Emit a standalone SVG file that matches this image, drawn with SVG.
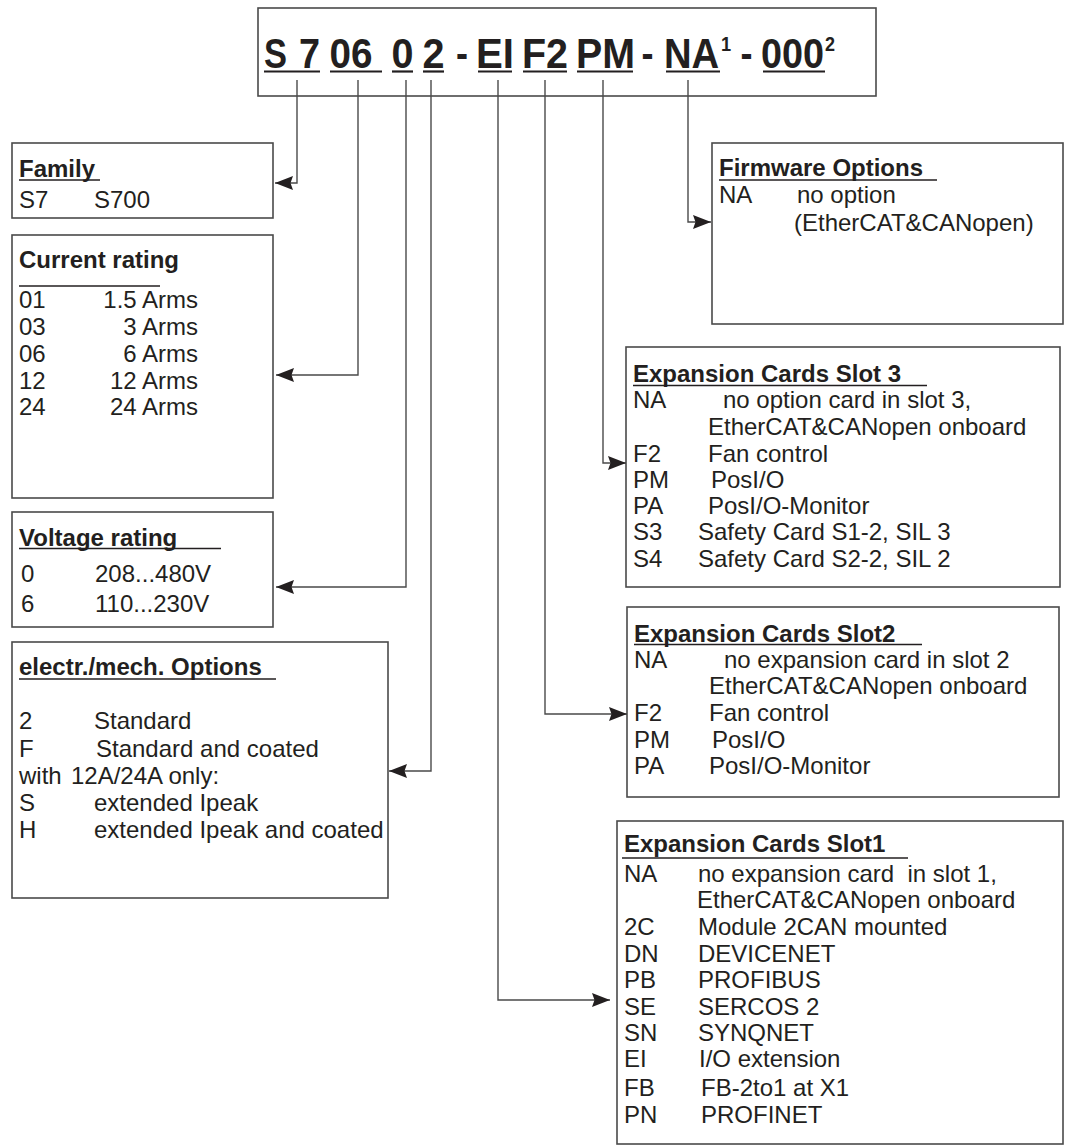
<svg xmlns="http://www.w3.org/2000/svg" width="1073" height="1146" viewBox="0 0 1073 1146">
<style>
text{font-family:"Liberation Sans",Arial,sans-serif;fill:#231f20}
.t{font-size:24px;font-weight:bold}
.r{font-size:24px}
.h{font-size:42px;font-weight:bold}
.sup{font-size:20px;font-weight:bold}
.box{fill:#fff;stroke:#4a4a4a;stroke-width:1.6}
.ul{stroke:#231f20;stroke-width:1.6}
.hul{stroke:#231f20;stroke-width:2.2}
.con{fill:none;stroke:#4a4a4a;stroke-width:1.4}
.e{text-anchor:end}
</style>
<defs>
<marker id="ah" viewBox="0 0 18 14" refX="18" refY="7" markerWidth="18" markerHeight="14" markerUnits="userSpaceOnUse" orient="auto">
<path d="M0,0 L18,7 L0,14 L2.5,7 z" fill="#231f20"/>
</marker>
</defs>
<rect width="1073" height="1146" fill="#fff"/>

<g id="header">
<rect class="box" x="258" y="8" width="618" height="88"/>
<text class="h" x="264" y="68" textLength="23" lengthAdjust="spacingAndGlyphs">S</text>
<text class="h" x="299" y="68" textLength="21" lengthAdjust="spacingAndGlyphs">7</text>
<text class="h" x="329.5" y="68" textLength="43" lengthAdjust="spacingAndGlyphs">06</text>
<text class="h" x="391.5" y="68" textLength="22" lengthAdjust="spacingAndGlyphs">0</text>
<text class="h" x="422.5" y="68" textLength="22" lengthAdjust="spacingAndGlyphs">2</text>
<text class="h" x="456" y="68" textLength="12" lengthAdjust="spacingAndGlyphs">-</text>
<text class="h" x="476" y="68" textLength="38" lengthAdjust="spacingAndGlyphs">EI</text>
<text class="h" x="522" y="68" textLength="46" lengthAdjust="spacingAndGlyphs">F2</text>
<text class="h" x="576" y="68" textLength="59" lengthAdjust="spacingAndGlyphs">PM</text>
<text class="h" x="641.5" y="68" textLength="12" lengthAdjust="spacingAndGlyphs">-</text>
<text class="h" transform="translate(664,68) scale(0.91,1)">NA<tspan class="sup" dx="2" dy="-17">1</tspan></text>
<text class="h" x="740.5" y="68" textLength="12" lengthAdjust="spacingAndGlyphs">-</text>
<text class="h" transform="translate(761,68) scale(0.9,1)">000<tspan class="sup" dx="1" dy="-17">2</tspan></text>
<line class="hul" x1="264" y1="71.5" x2="320" y2="71.5"/>
<line class="hul" x1="330" y1="71.5" x2="382" y2="71.5"/>
<line class="hul" x1="392" y1="71.5" x2="413" y2="71.5"/>
<line class="hul" x1="423" y1="71.5" x2="444" y2="71.5"/>
<line class="hul" x1="478" y1="71.5" x2="512" y2="71.5"/>
<line class="hul" x1="523" y1="71.5" x2="567" y2="71.5"/>
<line class="hul" x1="577" y1="71.5" x2="633" y2="71.5"/>
<line class="hul" x1="666" y1="71.5" x2="720" y2="71.5"/>
<line class="hul" x1="763" y1="71.5" x2="825" y2="71.5"/>
</g>

<g id="family">
<rect class="box" x="12" y="143" width="261" height="75"/>
<text class="t" x="19" y="177">Family</text>
<line class="ul" x1="19" y1="180" x2="100" y2="180"/>
<text class="r" x="19" y="208">S7</text>
<text class="r" x="94" y="208">S700</text>
</g>

<g id="current">
<rect class="box" x="12" y="235" width="261" height="263"/>
<text class="t" x="19" y="268">Current rating</text>
<line class="ul" x1="19" y1="286" x2="160" y2="286"/>
<text class="r" x="19" y="308">01</text><text class="r e" x="198" y="308">1.5 Arms</text>
<text class="r" x="19" y="335">03</text><text class="r e" x="198" y="335">3 Arms</text>
<text class="r" x="19" y="362">06</text><text class="r e" x="198" y="362">6 Arms</text>
<text class="r" x="19" y="389">12</text><text class="r e" x="198" y="389">12 Arms</text>
<text class="r" x="19" y="415">24</text><text class="r e" x="198" y="415">24 Arms</text>
</g>

<g id="voltage">
<rect class="box" x="12" y="512" width="261" height="115"/>
<text class="t" x="19" y="546">Voltage rating</text>
<line class="ul" x1="19" y1="548.5" x2="221" y2="548.5"/>
<text class="r" x="21" y="582">0</text><text class="r" x="95" y="582">208...480V</text>
<text class="r" x="21" y="612">6</text><text class="r" x="95" y="612">110...230V</text>
</g>

<g id="options">
<rect class="box" x="12" y="642" width="376" height="256"/>
<text class="t" x="19" y="675">electr./mech. Options</text>
<line class="ul" x1="19" y1="679" x2="276" y2="679"/>
<text class="r" x="19" y="729">2</text><text class="r" x="94" y="729">Standard</text>
<text class="r" x="19" y="757">F</text><text class="r" x="96" y="757">Standard and coated</text>
<text class="r" x="19" y="784">with</text><text class="r" x="71" y="784">12A/24A only:</text>
<text class="r" x="19" y="811">S</text><text class="r" x="94" y="811">extended Ipeak</text>
<text class="r" x="19" y="838">H</text><text class="r" x="94" y="838">extended Ipeak and coated</text>
</g>

<g id="firmware">
<rect class="box" x="712" y="143" width="351" height="181"/>
<text class="t" x="719" y="176">Firmware Options</text>
<line class="ul" x1="719" y1="180" x2="937" y2="180"/>
<text class="r" x="719" y="203">NA</text><text class="r" x="797" y="203">no option</text>
<text class="r" x="794" y="231">(EtherCAT&amp;CANopen)</text>
</g>

<g id="slot3">
<rect class="box" x="626" y="347" width="434" height="240"/>
<text class="t" x="633" y="382">Expansion Cards Slot 3</text>
<line class="ul" x1="633" y1="385.5" x2="927" y2="385.5"/>
<text class="r" x="633" y="408">NA</text><text class="r" x="723" y="408">no option card in slot 3,</text>
<text class="r" x="708" y="435">EtherCAT&amp;CANopen onboard</text>
<text class="r" x="633" y="462">F2</text><text class="r" x="708" y="462">Fan control</text>
<text class="r" x="633" y="488">PM</text><text class="r" x="711" y="488">PosI/O</text>
<text class="r" x="633" y="514">PA</text><text class="r" x="708" y="514">PosI/O-Monitor</text>
<text class="r" x="633" y="540">S3</text><text class="r" x="698" y="540">Safety Card S1-2, SIL 3</text>
<text class="r" x="633" y="567">S4</text><text class="r" x="698" y="567">Safety Card S2-2, SIL 2</text>
</g>

<g id="slot2">
<rect class="box" x="627" y="607" width="432" height="190"/>
<text class="t" x="634" y="642">Expansion Cards Slot2</text>
<line class="ul" x1="634" y1="644.5" x2="922" y2="644.5"/>
<text class="r" x="634" y="668">NA</text><text class="r" x="724" y="668">no expansion card in slot 2</text>
<text class="r" x="709" y="694">EtherCAT&amp;CANopen onboard</text>
<text class="r" x="634" y="721">F2</text><text class="r" x="709" y="721">Fan control</text>
<text class="r" x="634" y="748">PM</text><text class="r" x="712" y="748">PosI/O</text>
<text class="r" x="634" y="774">PA</text><text class="r" x="709" y="774">PosI/O-Monitor</text>
</g>

<g id="slot1">
<rect class="box" x="617" y="821" width="446" height="323"/>
<text class="t" x="624" y="852">Expansion Cards Slot1</text>
<line class="ul" x1="622" y1="858" x2="908" y2="858"/>
<text class="r" x="624" y="882">NA</text><text class="r" x="698" y="882" xml:space="preserve">no expansion card  in slot 1,</text>
<text class="r" x="697" y="908">EtherCAT&amp;CANopen onboard</text>
<text class="r" x="624" y="935">2C</text><text class="r" x="698" y="935">Module 2CAN mounted</text>
<text class="r" x="624" y="962">DN</text><text class="r" x="698" y="962">DEVICENET</text>
<text class="r" x="624" y="988">PB</text><text class="r" x="698" y="988">PROFIBUS</text>
<text class="r" x="624" y="1015">SE</text><text class="r" x="698" y="1015">SERCOS 2</text>
<text class="r" x="624" y="1041">SN</text><text class="r" x="698" y="1041">SYNQNET</text>
<text class="r" x="624" y="1067">EI</text><text class="r" x="699" y="1067">I/O extension</text>
<text class="r" x="624" y="1096">FB</text><text class="r" x="701" y="1096">FB-2to1 at X1</text>
<text class="r" x="624" y="1123">PN</text><text class="r" x="701" y="1123">PROFINET</text>
</g>

<g id="connectors">
<polyline class="con" points="297,80 297,183 275,183" marker-end="url(#ah)"/>
<polyline class="con" points="358,80 358,375 276,375" marker-end="url(#ah)"/>
<polyline class="con" points="406,80 406,587 276,587" marker-end="url(#ah)"/>
<polyline class="con" points="431,80 431,771 389,771" marker-end="url(#ah)"/>
<polyline class="con" points="498,80 498,1000 610,1000" marker-end="url(#ah)"/>
<polyline class="con" points="545,80 545,714 627,714" marker-end="url(#ah)"/>
<polyline class="con" points="603,80 603,463 626,463" marker-end="url(#ah)"/>
<polyline class="con" points="688,80 688,222 711,222" marker-end="url(#ah)"/>
</g>
</svg>
